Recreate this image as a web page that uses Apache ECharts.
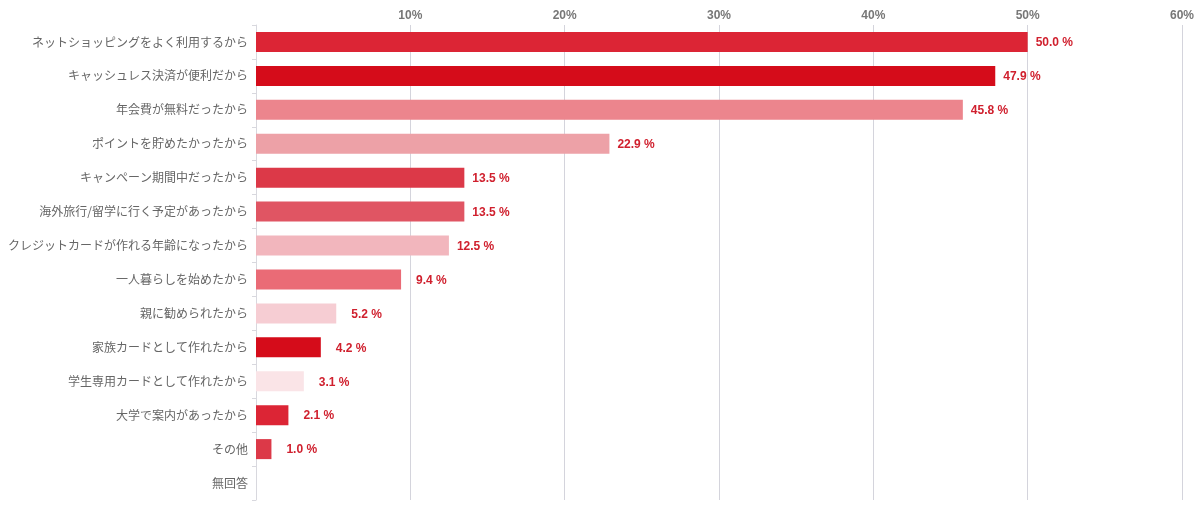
<!DOCTYPE html>
<html><head><meta charset="utf-8">
<script src="https://cdn.jsdelivr.net/npm/echarts@6/dist/echarts.min.js"></script>
<style>html,body{margin:0;padding:0;background:#fff}#c{width:1200px;height:514px}</style>
</head><body><div id="c"></div>
<script>
const categories = ["ネットショッピングをよく利用するから","キャッシュレス決済が便利だから","年会費が無料だったから","ポイントを貯めたかったから","キャンペーン期間中だったから","海外旅行/留学に行く予定があったから","クレジットカードが作れる年齢になったから","一人暮らしを始めたから","親に勧められたから","家族カードとして作れたから","学生専用カードとして作れたから","大学で案内があったから","その他","無回答"];
const values = [50.0,47.9,45.8,22.9,13.5,13.5,12.5,9.4,5.2,4.2,3.1,2.1,1.0,0];
const colors = ["#DC2535","#D50C1A","#EC858D","#EDA1A7","#DC3948","#E05563","#F2B6BD","#EA6B76","#F6CDD3","#D50C1A","#FAE4E7","#DC2535","#DC3948","#FFFFFF"];
const xTicks = [0,10,20,30,40,50,60];

const chart = echarts.init(document.getElementById('c'));
chart.setOption({
  animation:false,
  grid:{left:256,right:18,top:25,bottom:14,containLabel:false},
  xAxis:{type:'value',position:'top',min:0,max:60,interval:10,
    axisLine:{show:false},axisTick:{show:false},
    axisLabel:{formatter:v=>v===0?'':v+'%',color:'#777',fontWeight:'bold',fontSize:12,fontFamily:'Liberation Sans, Arial, sans-serif',margin:3},
    splitLine:{show:true,lineStyle:{color:'#d4d4dc',width:1}}},
  yAxis:{type:'category',inverse:true,data:categories,
    axisLine:{show:true,lineStyle:{color:'#d8d8de'}},
    axisTick:{show:true,length:4,lineStyle:{color:'#d8d8de'}},
    axisLabel:{color:'#666',fontSize:12,margin:8,fontFamily:'Noto Sans CJK JP, sans-serif'}},
  series:[{type:'bar',barCategoryGap:'41%',
    data:values.map((v,i)=>({value:v,itemStyle:{color:colors[i]},label:{show:v>0,distance:v<10?15:8}})),
    label:{position:'right',offset:[0,1],formatter:p=>p.value.toFixed(1)+' %',color:'#D0202E',fontWeight:'bold',fontSize:12,fontFamily:'Liberation Sans, Arial, sans-serif'}}]
});
</script></body></html>
